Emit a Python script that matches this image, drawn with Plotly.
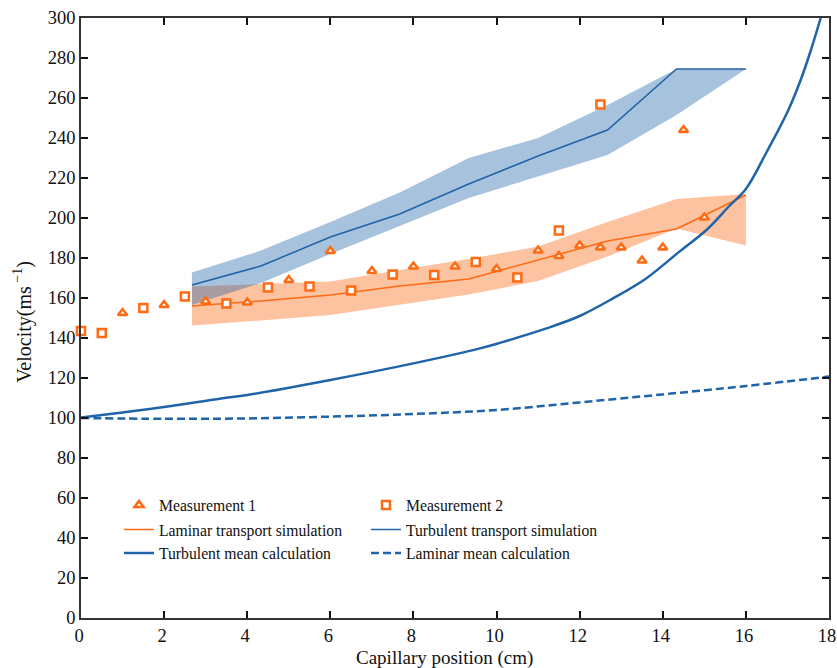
import plotly.graph_objects as go

# ---------------- data ----------------
m1_x = [1, 2, 3, 4, 5, 6, 7, 8, 9, 10, 11, 11.5, 12, 12.5, 13, 13.5, 14, 14.5, 15]
m1_y = [152.5, 156.5, 158.2, 157.7, 169, 183.5, 173.5, 175.7, 175.7, 174.5, 183.7, 181, 186.2, 185.2, 185.2, 178.7, 185.2, 244, 200.2]

m2_x = [0, 0.5, 1.5, 2.5, 3.5, 4.5, 5.5, 6.5, 7.5, 8.5, 9.5, 10.5, 11.5, 12.5]
m2_y = [143.5, 142.5, 155, 160.7, 157.3, 165.3, 165.7, 163.7, 171.8, 171.5, 178, 170.3, 193.8, 256.8]

sim_x = [2.67, 4.33, 6.0, 7.67, 9.33, 11.0, 12.67, 14.33, 16.0]
lam_sim = [156, 158.5, 161.5, 166, 169.5, 179, 188.5, 194.5, 211.5]
lam_up = [165.7, 167, 168.2, 174, 179.5, 185.7, 198, 209.5, 212]
lam_lo = [146.2, 148.8, 151.5, 156.5, 161.8, 168.5, 180.7, 194.8, 186.2]

tur_sim = [166.5, 176, 190.5, 202, 217, 231, 244, 274.5, 274.5]
tur_up = [172.7, 183.7, 198, 212.7, 230, 240, 256.5, 274.5, 274.5]
tur_lo = [156.5, 167.5, 182, 196, 210, 220.7, 231.5, 251.5, 274.5]

tmean_x = [0, 1, 2, 3.37, 4, 6.0, 8.0, 9.6, 10.1, 11.2, 12.0, 12.8, 13.6, 14.4, 15.05, 15.6, 16.0, 16.5, 17.0, 17.3, 17.55, 17.8]
tmean_y = [100.3, 102.8, 105.5, 109.8, 111.5, 119, 127.3, 134.8, 137.7, 144.8, 151, 159.8, 169.8, 183.2, 194, 206, 214.5, 233, 253, 268, 283, 300]

lmean_x = [0, 2, 4, 6, 8, 10, 12, 14, 16, 18]
lmean_y = [100, 99.6, 99.8, 100.7, 102, 104, 107.8, 111.8, 116, 120.7]

x_ticks = [0, 2, 4, 6, 8, 10, 12, 14, 16, 18]
y_ticks = list(range(0, 301, 20))

ORANGE = "#ff6a13"
BLUE = "#1f63a8"
ORANGE_FILL = "rgb(253,195,160)"
BLUE_FILL = "rgba(17,90,163,0.37)"
FONT = "Liberation Serif, Times New Roman, serif"

fig = go.Figure()

# bands
fig.add_trace(go.Scatter(x=sim_x + sim_x[::-1], y=lam_up + lam_lo[::-1], fill="toself",
                         fillcolor=ORANGE_FILL, line=dict(width=0), mode="lines",
                         showlegend=False, hoverinfo="skip"))
fig.add_trace(go.Scatter(x=sim_x + sim_x[::-1], y=tur_up + tur_lo[::-1], fill="toself",
                         fillcolor=BLUE_FILL, line=dict(width=0), mode="lines",
                         showlegend=False, hoverinfo="skip"))

# simulation lines
fig.add_trace(go.Scatter(x=sim_x, y=lam_sim, mode="lines", line=dict(color=ORANGE, width=1.5),
                         name="Laminar transport simulation", legend="legend3"))
fig.add_trace(go.Scatter(x=sim_x, y=tur_sim, mode="lines", line=dict(color=BLUE, width=1.5),
                         name="Turbulent transport simulation", legend="legend4"))

# mean calculations
fig.add_trace(go.Scatter(x=tmean_x, y=tmean_y, mode="lines", line=dict(color=BLUE, width=2.5, shape="spline"),
                         name="Turbulent mean calculation", legend="legend5"))
fig.add_trace(go.Scatter(x=lmean_x, y=lmean_y, mode="lines",
                         line=dict(color=BLUE, width=2.5, dash="8px,4px", shape="spline"),
                         name="Laminar mean calculation", legend="legend6"))

# measurements
fig.add_trace(go.Scatter(x=m1_x, y=m1_y, mode="markers",
                         marker=dict(symbol="triangle-up", size=8, color="white",
                                     line=dict(color=ORANGE, width=2.5)),
                         name="Measurement 1", legend="legend"))
fig.add_trace(go.Scatter(x=m2_x, y=m2_y, mode="markers",
                         marker=dict(symbol="square", size=8, color="white",
                                     line=dict(color=ORANGE, width=2.5)),
                         name="Measurement 2", legend="legend2", cliponaxis=False))

axis_common = dict(showline=True, linecolor="#333", linewidth=1.5, mirror="ticks",
                   ticks="inside", ticklen=7, tickwidth=2, tickcolor="#111",
                   showgrid=False, zeroline=False, automargin=False,
                   ticklabeloverflow="allow",
                   tickfont=dict(family=FONT, size=18.5, color="#111"))

LEG_FONT = dict(family=FONT, size=15.7, color="#111")
col_x = [0.0508, 0.381]
row_y = [0.188, 0.147, 0.108]


def leg(cx, ry):
    return dict(x=col_x[cx], y=row_y[ry], xanchor="left", yanchor="middle",
                bgcolor="rgba(0,0,0,0)", font=LEG_FONT, itemwidth=30)


fig.update_layout(
    width=837, height=668,
    margin=dict(l=81, r=8, t=18, b=50),
    plot_bgcolor="white", paper_bgcolor="white",
    font=dict(family=FONT, size=17, color="#111"),
    xaxis=dict(range=[0, 18], tickvals=x_ticks, ticktext=[str(v) for v in x_ticks],
               ticklabelshift=-2, **axis_common),
    yaxis=dict(range=[0, 300], tickvals=y_ticks, ticktext=[str(v) for v in y_ticks], **axis_common),
    legend=leg(0, 0), legend2=leg(1, 0),
    legend3=leg(0, 1), legend4=leg(1, 1),
    legend5=leg(0, 2), legend6=leg(1, 2),
    annotations=[
        dict(text="Capillary position (cm)", xref="paper", yref="paper", x=0.486, y=-0.067,
             xanchor="center", yanchor="middle", showarrow=False,
             font=dict(family=FONT, size=19, color="#111")),
        dict(text="Velocity(ms<sup> −1</sup>)", xref="paper", yref="paper", x=-0.078, y=0.493,
             xanchor="center", yanchor="middle", showarrow=False, textangle=-90,
             font=dict(family=FONT, size=20, color="#111")),
    ],
)

# remove the default page margin so the 837x668 figure fills the window exactly
fig.write_html("out.html",
               config={"displayModeBar": False},
               post_script="document.body.style.margin='0';"
                           "document.body.style.overflow='hidden';"
                           "document.documentElement.style.overflow='hidden';")
